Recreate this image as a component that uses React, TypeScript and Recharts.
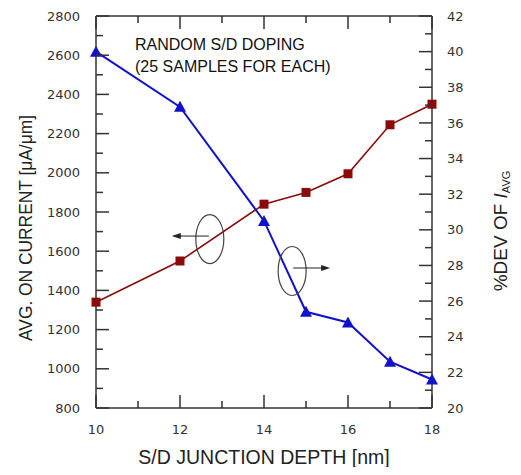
import React from 'react';
import { LineChart, Line, XAxis, YAxis, ReferenceDot } from 'recharts';

// S/D junction depth [nm]
const depths = [10, 12, 14, 15, 16, 17, 18];
// average on current [uA/um] (left axis)
const onCurrent = [1340, 1550, 1840, 1900, 1995, 2245, 2350];
// %DEV of I_AVG (right axis)
const devPercent = [40, 36.9, 30.5, 25.4, 24.8, 22.6, 21.6];

const xTicks = [10, 11, 12, 13, 14, 15, 16, 17, 18];
const leftTicks = [
  800, 900, 1000, 1100, 1200, 1300, 1400, 1500, 1600, 1700, 1800, 1900, 2000,
  2100, 2200, 2300, 2400, 2500, 2600, 2700, 2800,
];
const rightTicks = [
  20, 21, 22, 23, 24, 25, 26, 27, 28, 29, 30, 31, 32, 33, 34, 35, 36, 37, 38,
  39, 40, 41, 42,
];

const data = depths.map((d, i) => ({ depth: d, current: onCurrent[i], dev: devPercent[i] }));

const FONT = '"DejaVu Sans", Verdana, sans-serif';
const TITLE_FONT = '"Liberation Sans", Arial, sans-serif';
const AXIS = '#333';
const TICK = '#333';
const RED = '#8b0a0a';
const BLUE = '#1212cc';
const MAJOR = 13;
const MINOR = 7;

const LeftTick = (p: any) => {
  const v = p.payload.value;
  const ax = p.x + 16;
  const major = v % 200 === 0;
  return (
    <g>
      <line x1={ax} x2={ax + (major ? MAJOR : MINOR)} y1={p.y} y2={p.y} stroke={TICK} strokeWidth={1.5} />
      {major && (
        <text x={p.x} y={p.y} dy="0.36em" textAnchor="end" fontSize={13} fontFamily={FONT} fill="#333">
          {v}
        </text>
      )}
    </g>
  );
};

const RightTick = (p: any) => {
  const v = p.payload.value;
  const ax = p.x - 15;
  const major = v % 2 === 0;
  return (
    <g>
      <line x1={ax} x2={ax - (major ? MAJOR : MINOR)} y1={p.y} y2={p.y} stroke={TICK} strokeWidth={1.5} />
      {major && (
        <text x={p.x} y={p.y} dy="0.36em" textAnchor="start" fontSize={13} fontFamily={FONT} fill="#333">
          {v}
        </text>
      )}
    </g>
  );
};

const BottomTick = (p: any) => {
  const v = p.payload.value;
  const ay = p.y - 17;
  const major = v % 2 === 0;
  return (
    <g>
      <line x1={p.x} x2={p.x} y1={ay} y2={ay - (major ? MAJOR : MINOR)} stroke={TICK} strokeWidth={1.5} />
      {major && (
        <text x={p.x} y={p.y} dy="0.72em" textAnchor="middle" fontSize={13} fontFamily={FONT} fill="#333">
          {v}
        </text>
      )}
    </g>
  );
};

const TopTick = (p: any) => {
  const v = p.payload.value;
  const major = v % 2 === 0;
  return (
    <line x1={p.x} x2={p.x} y1={p.y} y2={p.y + (major ? MAJOR : MINOR)} stroke={TICK} strokeWidth={1.5} />
  );
};

const Square = (p: any) => (
  <rect key={p.index} x={p.cx - 4.5} y={p.cy - 4.5} width={9} height={9} fill={RED} />
);

const Triangle = (p: any) => (
  <polygon
    key={p.index}
    points={`${p.cx},${p.cy - 6} ${p.cx - 6},${p.cy + 5} ${p.cx + 6},${p.cy + 5}`}
    fill={BLUE}
  />
);

// ellipse marking a curve, with an arrow pointing to its axis
const Marker = (dir: number) => (p: any) => (
  <g>
    <ellipse cx={p.cx} cy={p.cy} rx={14} ry={24.5} fill="none" stroke="#444" strokeWidth={1.2} />
    <line x1={p.cx + dir * 1} y1={p.cy - 3} x2={p.cx + dir * 30} y2={p.cy - 3} stroke="#222" strokeWidth={1} />
    <polygon
      points={`${p.cx + dir * 38},${p.cy - 3} ${p.cx + dir * 29},${p.cy - 6} ${p.cx + dir * 29},${p.cy}`}
      fill="#222"
    />
  </g>
);

const LeftTitle = (props: any) => {
  const { viewBox } = props;
  const cx = viewBox.x + 17;
  const cy = viewBox.y + viewBox.height / 2 + 16;
  return (
    <text
      x={cx}
      y={cy}
      transform={`rotate(-90 ${cx} ${cy})`}
      textAnchor="middle"
      dominantBaseline="central"
      fontSize={19}
      textLength={226}
      lengthAdjust="spacingAndGlyphs"
      fontFamily={TITLE_FONT}
      fill="#222"
    >
      AVG. ON CURRENT [μA/μm]
    </text>
  );
};

const RightTitle = (props: any) => {
  const { viewBox } = props;
  const cx = viewBox.x + viewBox.width - 13;
  const cy = viewBox.y + viewBox.height / 2 + 19;
  return (
    <text
      x={cx}
      y={cy}
      transform={`rotate(-90 ${cx} ${cy})`}
      textAnchor="middle"
      dominantBaseline="central"
      fontSize={19}
      fontFamily={TITLE_FONT}
      fill="#222"
    >
      %DEV OF <tspan fontStyle="italic">I</tspan>
      <tspan fontSize={11} dy={6}>AVG</tspan>
    </text>
  );
};

export default function App() {
  return (
    <LineChart width={505} height={459} data={data} margin={{ top: 0, right: 0, bottom: 0, left: 0 }}>
      <XAxis
        xAxisId="bottom"
        dataKey="depth"
        type="number"
        domain={[10, 18]}
        ticks={xTicks}
        interval={0}
        height={59}
        tickSize={0}
        tickMargin={17}
        tick={BottomTick}
        axisLine={{ stroke: AXIS, strokeWidth: 1.5 }}
        label={{
          value: 'S/D JUNCTION DEPTH [nm]',
          position: 'insideBottom',
          offset: 3,
          fontSize: 19.5,
          fontFamily: TITLE_FONT,
          fill: '#222',
        }}
      />
      <XAxis
        xAxisId="top"
        orientation="top"
        dataKey="depth"
        type="number"
        domain={[10, 18]}
        ticks={xTicks}
        interval={0}
        height={8}
        tickSize={0}
        tickMargin={0}
        tick={TopTick}
        axisLine={{ stroke: AXIS, strokeWidth: 1.5 }}
      />
      <YAxis
        yAxisId="left"
        type="number"
        domain={[800, 2800]}
        ticks={leftTicks}
        interval={0}
        width={88}
        tickSize={0}
        tickMargin={16}
        tick={LeftTick}
        axisLine={{ stroke: AXIS, strokeWidth: 1.5 }}
        label={{ content: LeftTitle }}
      />
      <YAxis
        yAxisId="right"
        orientation="right"
        type="number"
        domain={[20, 42]}
        ticks={rightTicks}
        interval={0}
        width={81}
        tickSize={0}
        tickMargin={15}
        tick={RightTick}
        axisLine={{ stroke: AXIS, strokeWidth: 1.5 }}
        label={{ content: RightTitle }}
      />
      <Line
        xAxisId="bottom"
        yAxisId="left"
        dataKey="current"
        stroke={RED}
        strokeWidth={1.6}
        dot={Square}
        isAnimationActive={false}
      />
      <Line
        xAxisId="bottom"
        yAxisId="right"
        dataKey="dev"
        stroke={BLUE}
        strokeWidth={2}
        dot={Triangle}
        isAnimationActive={false}
      />
      <ReferenceDot xAxisId="bottom" yAxisId="left" x={12.71} y={1662} shape={Marker(-1)} />
      <ReferenceDot xAxisId="bottom" yAxisId="left" x={14.67} y={1499} shape={Marker(1)} />
      <text x={127} y={42} fontSize={16} fontFamily={TITLE_FONT} fill="#111">
        RANDOM S/D DOPING
      </text>
      <text x={127} y={63.7} fontSize={16} fontFamily={TITLE_FONT} fill="#111">
        (25 SAMPLES FOR EACH)
      </text>
    </LineChart>
  );
}
